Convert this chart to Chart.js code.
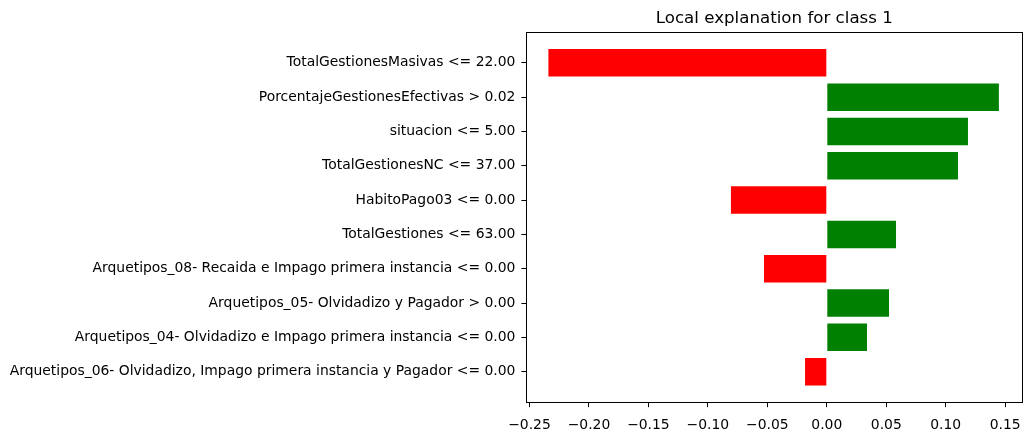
<!DOCTYPE html>
<html>
<head>
<meta charset="utf-8">
<script src="https://cdn.jsdelivr.net/npm/chart.js@4.4.1/dist/chart.umd.min.js"></script>
<style>
  html, body { margin: 0; padding: 0; background: #fff; }
  #c { display: block; }
</style>
</head>
<body>
<canvas id="c" width="1031" height="435"></canvas>
<script>
const title = "Local explanation for class 1";
const categories = [
  "TotalGestionesMasivas <= 22.00",
  "PorcentajeGestionesEfectivas > 0.02",
  "situacion <= 5.00",
  "TotalGestionesNC <= 37.00",
  "HabitoPago03 <= 0.00",
  "TotalGestiones <= 63.00",
  "Arquetipos_08- Recaida e Impago primera instancia <= 0.00",
  "Arquetipos_05- Olvidadizo y Pagador > 0.00",
  "Arquetipos_04- Olvidadizo e Impago primera instancia <= 0.00",
  "Arquetipos_06- Olvidadizo, Impago primera instancia y Pagador <= 0.00"
];
const values = [-0.2341, 0.1447, 0.1187, 0.1103, -0.0806, 0.0582, -0.0528, 0.0523, 0.0338, -0.0183];
const xTicks = [-0.25, -0.20, -0.15, -0.10, -0.05, 0.00, 0.05, 0.10, 0.15];

const FONT = "'DejaVu Sans', sans-serif";

const framePlugin = {
  id: 'frame',
  afterDraw(chart) {
    const { ctx, chartArea: a } = chart;
    ctx.save();
    ctx.strokeStyle = '#000';
    ctx.lineWidth = 1;
    ctx.strokeRect(Math.round(a.left) + 0.5, Math.round(a.top) + 0.5,
                   Math.round(a.right - a.left), Math.round(a.bottom - a.top));
    ctx.fillStyle = '#000';
    ctx.font = "16.67px " + FONT;
    ctx.textAlign = 'center';
    ctx.textBaseline = 'alphabetic';
    ctx.fillText(title, (a.left + a.right) / 2, a.top - 9.8);
    ctx.restore();
  }
};

new Chart(document.getElementById('c'), {
  type: 'bar',
  data: {
    datasets: [{
      data: values.map((v, i) => ({ x: v, y: i })),
      backgroundColor: values.map(v => v < 0 ? '#ff0000' : '#008000'),
      borderWidth: 0,
      categoryPercentage: 0.8,
      barPercentage: 1.0
    }]
  },
  options: {
    indexAxis: 'y',
    responsive: false,
    animation: false,
    devicePixelRatio: 1,
    layout: { padding: { top: 32.3, right: 8.8, left: 0, bottom: 0 } },
    plugins: { legend: { display: false }, tooltip: { enabled: false }, title: { display: false } },
    scales: {
      x: {
        type: 'linear',
        min: -0.2526,
        max: 0.1643,
        afterBuildTicks(scale) { scale.ticks = xTicks.map(v => ({ value: v })); },
        afterFit(scale) { scale.height = 32.8; },
        ticks: {
          color: '#000',
          font: { family: FONT, size: 13.9 },
          padding: 10,
          maxRotation: 0,
          autoSkip: false,
          callback: (v) => (v < 0 ? '\u2212' : '') + Math.abs(v).toFixed(2)
        },
        grid: { drawOnChartArea: false, drawTicks: true, tickLength: 5, color: '#000' },
        border: { display: true, color: '#000', width: 1 }
      },
      y: {
        type: 'linear',
        reverse: true,
        offset: false,
        min: -0.89,
        max: categories.length - 1 + 0.89,
        afterBuildTicks(scale) { scale.ticks = categories.map((_, i) => ({ value: i })); },
        afterFit(scale) { scale.width = 526.4; },
        ticks: {
          color: '#000',
          font: { family: FONT, size: 13.9 },
          padding: 6,
          autoSkip: false,
          callback: (v) => categories[v]
        },
        grid: { offset: false, drawOnChartArea: false, drawTicks: true, tickLength: 5, color: '#000' },
        border: { display: true, color: '#000', width: 1 }
      }
    }
  },
  plugins: [framePlugin]
});
</script>
</body>
</html>
